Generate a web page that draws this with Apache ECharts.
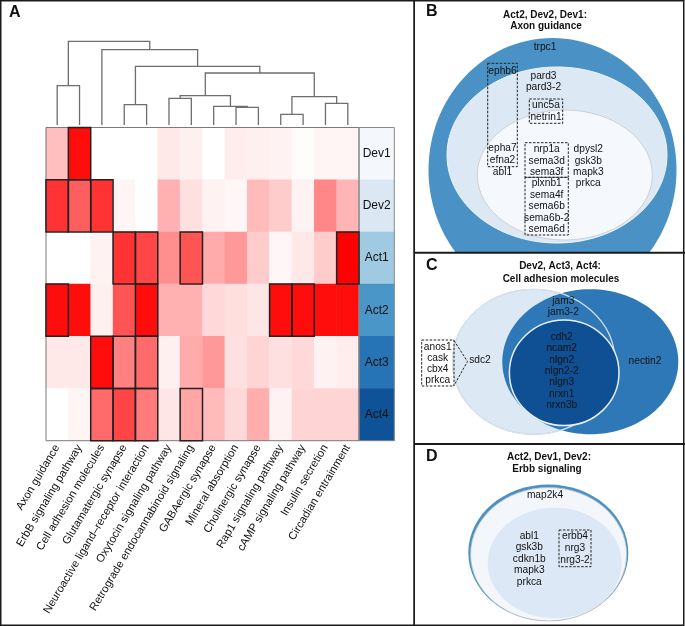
<!DOCTYPE html>
<html><head><meta charset="utf-8">
<script src="https://cdn.jsdelivr.net/npm/echarts@6/dist/echarts.min.js"></script>
<style>html,body{margin:0;padding:0;background:#fff}#c{width:685px;height:626px}</style>
</head><body><div id="c"></div>
<script>
// ---------- DATA ----------
const pathways = ['Axon guidance','ErbB signaling pathway','Cell adhesion molecules','Glutamatergic synapse',
  'Neuroactive ligand–receptor interaction','Oxytocin signaling pathway','Retrograde endocannabinoid signaling',
  'GABAergic synapse','Mineral absorption','Cholinergic synapse','Rap1 signaling pathway','cAMP signaling pathway',
  'Insulin secretion','Circadian entrainment'];
const groups = ['Dev1','Dev2','Act1','Act2','Act3','Act4'];
const dev1 = [0.25,0.95,0,0,0,0.09,0.06,0,0.07,0.06,0.05,0.01,0.04,0.04];
const dev2 = [0.80,0.63,0.80,0.04,0,0.31,0.12,0.05,0.03,0.27,0.20,0.05,0.47,0.29];
const act1 = [0,0,0.05,0.80,0.73,0.44,0.67,0.33,0.40,0.20,0.03,0.09,0.20,1.0];
const act2 = [0.95,0.95,0.06,0.67,0.95,0.31,0.31,0.15,0.13,0.10,0.95,0.95,0.95,0.95];
const act3 = [0.09,0.09,0.95,0.50,0.58,0.06,0.33,0.40,0.12,0.17,0.12,0.15,0.05,0.07];
const act4 = [0,0.04,0.58,0.73,0.52,0.10,0.35,0.27,0.15,0.32,0.05,0.17,0.17,0.17];
const enrichment = [dev1, dev2, act1, act2, act3, act4];
// significant (boxed) cells, column indices per group
const sigDev1 = [1];
const sigDev2 = [0,1,2];
const sigAct1 = [3,4,6,13];
const sigAct2 = [0,4,10,11];
const sigAct3 = [2,3,4];
const sigAct4 = [2,3,4,6];
const significant = [sigDev1, sigDev2, sigAct1, sigAct2, sigAct3, sigAct4];
const groupColors = ['#F4F8FD','#DBE8F4','#A0CAE1','#4A96C8','#2673B5','#0E5297'];
// dendrogram linkage (leaves 0..13, merge k creates node 14+k)
const dendroLeft   = [0, 3, 5, 8, 7, 16, 10, 12, 20, 19, 15, 2, 14];
const dendroRight  = [1, 4, 6, 9, 17, 18, 11, 13, 21, 22, 23, 24, 25];
const dendroHeight = [39.3, 20.3, 26.7, 17.7, 18.7, 29.3, 10.7, 21.7, 28.3, 52, 58.7, 75.3, 83.7];

// Venn gene lists
const genesB = [['trpc1'],['ephb6'],['pard3','pard3-2'],['unc5a','netrin1'],['epha7','efna2','abl1'],
  ['nrp1a','sema3d','sema3f','plxnb1','sema4f','sema6b','sema6b-2','sema6d'],['dpysl2','gsk3b','mapk3','prkca']];
const genesC = [['jam3','jam3-2'],['cdh2','ncam2','nlgn2','nlgn2-2','nlgn3','nrxn1','nrxn3b'],['nectin2'],['sdc2'],
  ['anos1','cask','cbx4','prkca']];
const genesD = [['map2k4'],['abl1','gsk3b','cdkn1b','mapk3','prkca'],['erbb4','nrg3','nrg3-2']];

// ---------- LAYOUT (positions / styles) ----------
const FONT = '"Liberation Sans", Arial, Helvetica, sans-serif';
const layoutB = {
  ellipses: [[552.5,170,124,132],[557,155,110,88],[564.8,175,87.5,65]],
  estyle: [{fill:'#4A92C5'},{fill:'#DCE9F5',stroke:'#eef4fa',lineWidth:1},{fill:'#F5F9FD',stroke:'#c4c8cc',lineWidth:0.8}],
  text: [[545,46.7,11],[502.5,70.7,11],[543.5,76,11.3],[546,104.7,12.6],[502.5,148.3,12],[546.7,149.3,11.43],[588.3,149.3,11.4]],
  boxes: [[487.7,63.3,517.3,166.7],[529.3,99,562.7,123.3],[525,142.7,568.3,177.3],[525,177.3,568.3,235]],
  lines: []
};
const layoutC = {
  ellipses: [[533.7,361.8,81.3,72.5],[590.3,361.8,88,72.5],[533.7,361.8,81.3,72.5],[564.2,372.8,54.8,52.8]],
  estyle: [{fill:'#DCE9F5',stroke:'#bdbdbd',lineWidth:1},{fill:'#2E78B7'},{fill:null,stroke:'#d6e3ef',lineWidth:1.2},{fill:'#0F4F94',stroke:'#e8eff6',lineWidth:1.5}],
  text: [[563.3,301,10.7],[561.7,337.3,11.33],[645,360.7,11],[480,360,11],[437.7,346.7,11.1]],
  boxes: [[421.7,340,454,386]],
  lines: [[[454,340.5],[467.5,361.5],[454,385.5]]]
};
const layoutD = {
  ellipses: [[548.3,552.7,80,68.3],[548.6,554.3,78,66.7],[554.7,563,67,55.3]],
  estyle: [{fill:'#4A92C5'},{fill:'#F3F7FC',stroke:'#c0c0c0',lineWidth:0.8},{fill:'#DCE8F5'}],
  text: [[545,495,11],[529.3,535.7,11.65],[575,535.7,12.1]],
  boxes: [[559,530,591,566.7]],
  lines: []
};

// ---------- derived ----------
const heatData = [];
enrichment.forEach((row, r) => row.forEach((v, c) => heatData.push([c, r, v])));
const boxData = [];
significant.forEach((cols, r) => cols.forEach(c => boxData.push([c, r])));
const nodeX = [], nodeH = [];
for (let i = 0; i < pathways.length; i++) { nodeX.push(i + 0.5); nodeH.push(0); }
dendroHeight.forEach((h, k) => { nodeX.push((nodeX[dendroLeft[k]] + nodeX[dendroRight[k]]) / 2); nodeH.push(h); });

function vennSeries(gridIdx, layout, genes) {
  const out = [];
  out.push({
    type:'custom', xAxisIndex:gridIdx, yAxisIndex:gridIdx, clip:true, silent:true,
    data: layout.ellipses.map(e => e.slice()),
    renderItem: (p, api) => {
      const e = layout.ellipses[p.dataIndex];
      const c = api.coord([e[0], e[1]]); const s = api.size([e[2], e[3]]);
      const st = layout.estyle[p.dataIndex];
      return {type:'ellipse', shape:{cx:c[0], cy:c[1], rx:s[0], ry:s[1]},
        style:{fill: st.fill === null ? 'none' : st.fill, stroke: st.stroke || 'none', lineWidth: st.lineWidth || 0}};
    }
  });
  const lines = [];
  genes.forEach((blk, b) => { const t = layout.text[b]; blk.forEach((g, j) => lines.push({x:t[0], y:t[1] + j * t[2], t:g})); });
  out.push({
    type:'custom', xAxisIndex:gridIdx, yAxisIndex:gridIdx, clip:true, silent:true, z:5,
    data: lines.map(l => [l.x, l.y]),
    renderItem: (p, api) => {
      const l = lines[p.dataIndex]; const c = api.coord([l.x, l.y]);
      return {type:'text', x:c[0], y:c[1], style:{text:l.t, font:'10.2px ' + FONT, fill:'#111', align:'center', verticalAlign:'middle'}};
    }
  });
  if (layout.boxes.length) out.push({
    type:'custom', xAxisIndex:gridIdx, yAxisIndex:gridIdx, silent:true, z:6,
    data: layout.boxes.map(b => b.slice()),
    renderItem: (p, api) => {
      const b = layout.boxes[p.dataIndex]; const a = api.coord([b[0], b[1]]), d = api.coord([b[2], b[3]]);
      return {type:'rect', shape:{x:a[0], y:a[1], width:d[0]-a[0], height:d[1]-a[1]},
        style:{fill:'none', stroke:'#222', lineWidth:1, lineDash:[2.5,1.5]}};
    }
  });
  if (layout.lines.length) out.push({
    type:'custom', xAxisIndex:gridIdx, yAxisIndex:gridIdx, silent:true, z:6,
    data: layout.lines.map((l, i) => [i, 0]),
    renderItem: (p, api) => {
      const pts = layout.lines[p.dataIndex].map(q => api.coord(q));
      return {type:'polyline', shape:{points:pts}, style:{fill:'none', stroke:'#222', lineWidth:1, lineDash:[2.5,1.5]}};
    }
  });
  return out;
}

const chart = echarts.init(document.getElementById('c'), null, {renderer:'canvas', width:685, height:626});
const panelGrids = [
  {left:414, top:0, width:271, height:252.7},
  {left:414, top:252.7, width:271, height:191.3},
  {left:414, top:444, width:271, height:182}
];
const option = {
  animation:false,
  backgroundColor:'#fff',
  textStyle:{fontFamily:FONT},
  grid: [
    {left:46, top:127.5, width:313, height:313.2, show:true, borderColor:'#7a7a7a', borderWidth:1, backgroundColor:'transparent', z:3},
    {left:359, top:127.5, width:35.3, height:313.2, show:true, borderColor:'#8a8a8a', borderWidth:1, backgroundColor:'transparent', z:3},
    {left:46, top:35, width:313, height:90},
    ...panelGrids
  ],
  xAxis: [
    {type:'category', gridIndex:0, data:pathways, position:'bottom',
      axisLine:{show:false}, axisTick:{show:false}, splitLine:{show:false},
      axisLabel:{interval:0, rotate:59, fontSize:11.2, color:'#111', margin:5, fontFamily:FONT}},
    {type:'category', gridIndex:1, data:[''], show:false},
    {type:'value', gridIndex:2, min:0, max:14, show:false},
    {type:'value', gridIndex:3, min:414, max:685, show:false},
    {type:'value', gridIndex:4, min:414, max:685, show:false},
    {type:'value', gridIndex:5, min:414, max:685, show:false}
  ],
  yAxis: [
    {type:'category', gridIndex:0, data:groups, inverse:true, show:false},
    {type:'category', gridIndex:1, data:groups, inverse:true, show:false},
    {type:'value', gridIndex:2, min:0, max:90, show:false},
    {type:'value', gridIndex:3, min:0, max:252.7, inverse:true, show:false},
    {type:'value', gridIndex:4, min:252.7, max:444, inverse:true, show:false},
    {type:'value', gridIndex:5, min:444, max:626, inverse:true, show:false}
  ],
  visualMap: [{type:'continuous', seriesIndex:0, dimension:2, min:0, max:1, show:false,
    inRange:{color:['#ffffff','#ff0000']}}],
  series: [
    {type:'heatmap', xAxisIndex:0, yAxisIndex:0, data:heatData, itemStyle:{borderWidth:0}, emphasis:{disabled:true}, silent:true},
    {type:'heatmap', xAxisIndex:1, yAxisIndex:1, silent:true, emphasis:{disabled:true},
      data: groups.map((g, i) => ({value:[0, i, i], itemStyle:{color:groupColors[i]}})),
      label:{show:true, formatter:(p) => groups[p.value[1]], fontSize:12, color:'#111', fontFamily:FONT}},
    {type:'custom', xAxisIndex:0, yAxisIndex:0, silent:true, z:4, data:boxData,
      renderItem:(p, api) => {
        const c = api.coord([api.value(0), api.value(1)]); const s = api.size([1, 1]);
        return {type:'rect', shape:{x:c[0]-s[0]/2, y:c[1]-s[1]/2, width:s[0], height:s[1]},
          style:{fill:'none', stroke:'#222', lineWidth:1.5}};
      }},
    {type:'custom', xAxisIndex:2, yAxisIndex:2, silent:true,
      data: dendroHeight.map((h, k) => [k, h]),
      renderItem:(p, api) => {
        const k = p.dataIndex, l = dendroLeft[k], r = dendroRight[k], h = dendroHeight[k];
        const pts = [api.coord([nodeX[l], nodeH[l]]), api.coord([nodeX[l], h]), api.coord([nodeX[r], h]), api.coord([nodeX[r], nodeH[r]])];
        return {type:'polyline', shape:{points:pts}, style:{fill:'none', stroke:'#6e6e6e', lineWidth:1.3}};
      }},
    ...vennSeries(3, layoutB, genesB),
    ...vennSeries(4, layoutC, genesC),
    ...vennSeries(5, layoutD, genesD)
  ],
  graphic: [
    {type:'text', x:9, y:5, z:100, style:{text:'A', font:'bold 16px ' + FONT, fill:'#111'}},
    {type:'text', x:426, y:4, z:100, style:{text:'B', font:'bold 16px ' + FONT, fill:'#111'}},
    {type:'text', x:426, y:258, z:100, style:{text:'C', font:'bold 16px ' + FONT, fill:'#111'}},
    {type:'text', x:426, y:449, z:100, style:{text:'D', font:'bold 16px ' + FONT, fill:'#111'}},
    {type:'text', x:545, y:15, z:100, style:{text:'Act2, Dev2, Dev1:', font:'bold 10px ' + FONT, fill:'#111', align:'center', verticalAlign:'middle'}},
    {type:'text', x:546, y:26.5, z:100, style:{text:'Axon guidance', font:'bold 10px ' + FONT, fill:'#111', align:'center', verticalAlign:'middle'}},
    {type:'text', x:560, y:266.5, z:100, style:{text:'Dev2, Act3, Act4:', font:'bold 10px ' + FONT, fill:'#111', align:'center', verticalAlign:'middle'}},
    {type:'text', x:561, y:279, z:100, style:{text:'Cell adhesion molecules', font:'bold 10px ' + FONT, fill:'#111', align:'center', verticalAlign:'middle'}},
    {type:'text', x:549, y:457.5, z:100, style:{text:'Act2, Dev1, Dev2:', font:'bold 10px ' + FONT, fill:'#111', align:'center', verticalAlign:'middle'}},
    {type:'text', x:547, y:469.5, z:100, style:{text:'Erbb signaling', font:'bold 10px ' + FONT, fill:'#111', align:'center', verticalAlign:'middle'}},
    {type:'rect', z:100, shape:{x:0.75, y:0.75, width:413.5, height:624.5}, style:{fill:'none', stroke:'#1a1a1a', lineWidth:1.5}},
    {type:'rect', z:100, shape:{x:414.25, y:0.75, width:269.5, height:624.5}, style:{fill:'none', stroke:'#1a1a1a', lineWidth:1.5}},
    {type:'line', z:100, shape:{x1:414, y1:252.7, x2:685, y2:252.7}, style:{stroke:'#1a1a1a', lineWidth:2}},
    {type:'line', z:100, shape:{x1:414, y1:444, x2:685, y2:444}, style:{stroke:'#1a1a1a', lineWidth:2}}
  ]
};
chart.setOption(option);
</script>
</body></html>
